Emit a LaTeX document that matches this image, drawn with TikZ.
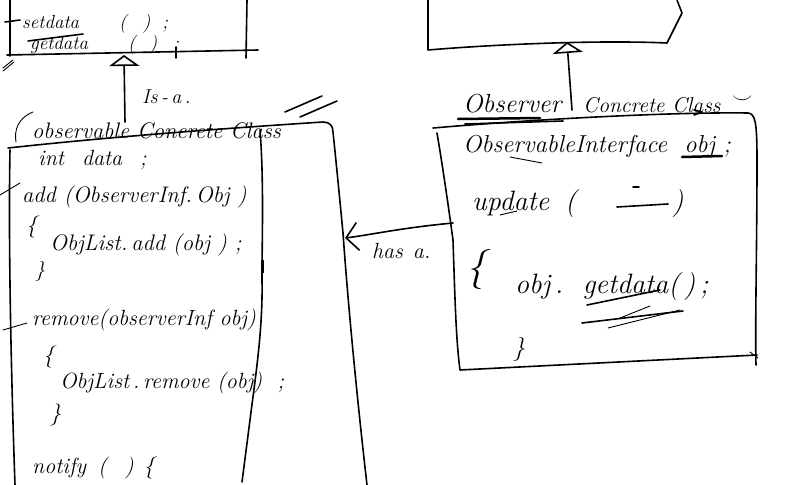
\documentclass[tikz,border=0pt]{standalone}
\usetikzlibrary{arrows.meta}
\begin{document}
\begin{tikzpicture}[x=1pt,y=-1pt]
\tikzset{
  pen/.style={line width=1.6pt, line cap=round, line join=round},
  thinpen/.style={line width=0.9pt, line cap=round},
  hw/.style={anchor=base west, inner sep=0pt, font=\fontsize{22}{26}\selectfont\itshape},
  hwsmall/.style={hw, font=\fontsize{20}{22}\selectfont\itshape},
  hwtop/.style={hw, font=\fontsize{19}{21}\selectfont\itshape},
  hwbig/.style={hw, font=\fontsize{26}{30}\selectfont\itshape},
  hwhuge/.style={hw, font=\fontsize{28}{32}\selectfont\itshape},
  isa/.style={pen, -{Triangle[open,length=11pt,width=30pt,line width=1.6pt]}},
  hasa/.style={pen, -{Straight Barb[length=12pt,width=28pt,line width=1.6pt]}},
}
\useasboundingbox[fill=white] (0,0) rectangle (804,485);

% ---------- top-left class box ----------
\draw[pen] (10,0) -- (10,56);
\draw[pen] (5,22) -- (20,20);
\draw[pen] (247,0) -- (246,58);
\draw[pen] (7,55) -- (258,50);
\draw[pen] (176,47) -- (176,58);
\draw[thinpen] (3,68) -- (13,60);
\draw[thinpen] (3,71) -- (14,62);
\draw[pen] (28,41) -- (83,34);
\node[hwtop] (sd) at (22,28) {setdata\hspace{40pt}(\hspace{16pt})\hspace{12pt};};
\node[hwtop] (gd) at (30,49) {getdata\hspace{40pt}(\hspace{14pt})\hspace{16pt};};
\coordinate (tlbase) at (124,55);

% ---------- left class box ----------
\node[hw, font=\fontsize{22.5}{26}\selectfont\itshape] (lcname) at (32,138) {observable Concrete Class};
\coordinate (lcshaft) at (125,122);
\draw[isa] (lcshaft) -- (tlbase);
\node[hwsmall] (isa) at (142,103) {Is\,-\,a\,.};
\draw[thinpen] (33,112) .. controls (18,118) and (14,130) .. (16,142);
\draw[pen] (285,112) -- (322,96);
\draw[pen] (300,117) -- (337,101);
% header line and outer right side
\draw[pen] (8,148) .. controls (100,138) and (200,130) .. (323,122)
  .. controls (330,122) and (333,126) .. (333,132)
  .. controls (338,180) and (343,233) .. (343,233)
  .. controls (347,290) and (355,380) .. (367,485);
% left side
\draw[pen] (10,150) .. controls (8,250) and (12,400) .. (15,485);
\draw[thinpen] (0,195) -- (20,183);
\draw[thinpen] (3,330) -- (27,323);
% inner right side
\draw[pen] (260,130) .. controls (264,180) and (262,240) .. (262,280)
  .. controls (263,330) and (255,380) .. (250,420) -- (242,482);
\draw[line width=3pt] (262,260) -- (262,273);

\node[hw] (intd) at (38,165) {int\hspace{18pt}data\hspace{18pt};};
\node[hw, font=\fontsize{22.5}{26}\selectfont\itshape] (add) at (22,202) {add (ObserverInf.\,Obj )};
\node[hw] (ob1) at (26,232) {\{};
\node[hw, font=\fontsize{22.5}{26}\selectfont\itshape] (addl) at (50,250) {ObjList.\,add (obj ) ;};
\node[hwsmall] (cb1) at (35,276) {\}};
\node[hw] (rem) at (32,325) {remove(observerInf obj)};
\node[hw] (ob2) at (43,362) {\{};
\node[hw] (reml) at (60,388) {ObjList\,.\,remove (obj)\ \ ;};
\node[hw] (cb2) at (50,420) {\}};
\node[hw] (noti) at (32,473) {notify\hspace{12pt}(\hspace{18pt})\hspace{10pt}\{};

% ---------- top-right class box ----------
\draw[pen] (428,0) -- (428,50) .. controls (500,44) and (600,40) .. (667,43)
  -- (682,13) -- (677,0);
\coordinate (trbase) at (567,42);

% ---------- right class box ----------
\node[hwbig] (ocname1) at (463,112) {Observer};
\node[hw, font=\fontsize{21.5}{26}\selectfont\itshape] (ocname2) at (583,112) {Concrete Class};
\node[hwsmall] (ocsym) at (732,103) {$\smile$};
\coordinate (ocshaft) at (572,110);
\draw[isa] (ocshaft) -- (trbase);
\draw[line width=2.5pt, line cap=round] (458,119) -- (540,118);
\draw[pen] (465,124) -- (563,121);
\draw[pen] (433,128) .. controls (550,118) and (680,112) .. (748,113)
  .. controls (755,114) and (757,120) .. (757,160)
  .. controls (757,250) and (755,320) .. (756,365);
\draw[pen] (694,110) -- (702,112) -- (694,115);
\draw[pen] (437,133) .. controls (445,180) and (453,240) .. (453,240)
  .. controls (455,300) and (456,340) .. (460,370) -- (757,355);
\draw[thinpen] (750,352) -- (758,358);

\node[hw, font=\fontsize{24.5}{28}\selectfont\itshape] (obsif) at (463,152) {ObservableInterface\ \ obj\ ;};
\draw[line width=2.5pt, line cap=round] (682,157) -- (722,156);
\draw[thinpen] (510,157) -- (542,163);
\node[hwhuge] (upd) at (472,210) {update\hspace{16pt}(\hspace{96pt})};
\draw[pen] (617,207) -- (668,204);
\draw[pen] (633,187) -- (639,187);
\draw[thinpen] (500,215) -- (517,211);
\node[hw, font=\fontsize{40}{44}\selectfont\itshape] (ob3) at (466,279) {\{};
\node[hwhuge] (getl) at (515,293) {obj\,.\ \ getdata(\,)\,;};
\draw[pen] (587,305) -- (660,290);
\draw[pen] (582,323) -- (683,311);
\draw[thinpen] (608,328) -- (680,310);
\draw[thinpen] (620,318) -- (650,306);
\node[hw, font=\fontsize{24}{28}\selectfont\itshape] (cb3) at (513,355) {\}};

% ---------- has-a association ----------
\coordinate (hasstart) at (453,223);
\coordinate (hastip) at (345,238);
\draw[hasa] (hasstart) .. controls (400,228) and (370,235) .. (hastip);
\node[hw] (hasa) at (372,258) {has\hspace{10pt}a.};
\end{tikzpicture}
\end{document}
